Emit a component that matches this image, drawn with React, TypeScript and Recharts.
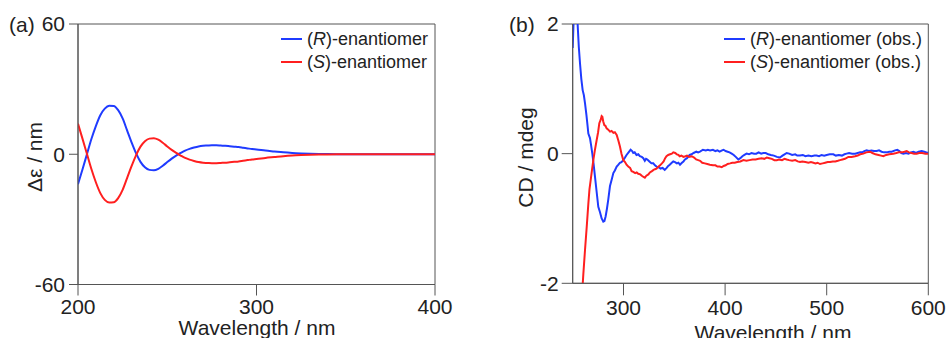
import { LineChart, Line, XAxis, YAxis, ReferenceArea, Label } from "recharts";

const FONT = "'Liberation Sans', Arial, sans-serif";
const BLUE = "#1f3bff";
const RED = "#ff1f1f";
const AXIS = "#555555";
const INK = "#222222";

// (a) calculated spectra
const calcWl = [
  200, 202.5, 205, 207.5, 210, 212.5, 215, 217.5, 220, 222.5, 225, 227.5, 230, 232.5, 235, 237.5,
  240, 242.5, 245, 247.5, 250, 252.5, 255, 257.5, 260, 262.5, 265, 267.5, 270, 272.5, 275, 277.5,
  280, 282.5, 285, 287.5, 290, 292.5, 295, 297.5, 300, 305, 310, 315, 320, 325, 330, 335, 340,
  345, 350, 360, 370, 380, 390, 400,
];
const calcR = [
  -13.8, -7, 0, 7, 13, 18, 21, 22.3, 22.2, 20.3, 16.5, 11, 5.5, 0.5, -3.5, -6,
  -7.2, -7.4, -6.7, -5.3, -3.6, -2, -0.6, 0.6, 1.7, 2.5, 3.1, 3.6, 3.9, 4.0, 4.1, 4.1,
  4.0, 3.9, 3.7, 3.5, 3.3, 3.0, 2.7, 2.4, 2.2, 1.7, 1.3, 0.9, 0.6, 0.4, 0.25, 0.15, 0.08,
  0.04, 0.02, 0, 0, 0, 0, 0,
];
const calcS = [
  14.1, 7.2, 0.2, -6.8, -12.9, -17.9, -21, -22.2, -22.1, -20.2, -16.4, -11, -5.5, -0.5, 3.5, 6,
  7.2, 7.4, 6.7, 5.3, 3.6, 2, 0.6, -0.6, -1.7, -2.5, -3.1, -3.6, -3.9, -4.0, -4.1, -4.1,
  -4.0, -3.9, -3.7, -3.5, -3.3, -3.0, -2.7, -2.4, -2.2, -1.7, -1.3, -0.9, -0.6, -0.4, -0.25, -0.15, -0.08,
  -0.04, -0.02, 0, 0, 0, 0, 0,
];

// (b) observed spectra, [wavelength, CD]
const obsR: [number, number][] = [
  [250, 1.63], [251, 2.1], [252, 2.6], [253, 2.6], [254, 2.3], [255, 1.95], [256, 1.65], [257.2, 1.39],
  [258.5, 1.15], [259.8, 0.98], [261, 0.9], [262.1, 0.78], [263.5, 0.6], [264.5, 0.45], [265.4, 0.31],
  [267, 0.24], [268.2, 0.12], [269.3, 0.0], [270.5, -0.15], [271.9, -0.35], [273.5, -0.58], [275.2, -0.82],
  [276.8, -0.9], [278.5, -1.0], [280.1, -1.05], [281.2, -1.04], [282.4, -0.97], [283.7, -0.85], [285, -0.71],
  [286.7, -0.5], [288.4, -0.4], [290, -0.3], [291.5, -0.26], [293.3, -0.2], [295, -0.17], [296.5, -0.14],
  [298, -0.13], [299.8, -0.1], [301.5, -0.06], [303, -0.02], [305, 0.02], [307, 0.06], [308.5, 0.04],
  [309.6, 0.01], [311, 0.02], [312.8, -0.02], [314.5, -0.01], [316.1, -0.04], [318, -0.05], [319.5, -0.07],
  [321, -0.11], [322.2, -0.08], [323.5, -0.09], [325.5, -0.12], [327.5, -0.15], [329.3, -0.15], [331, -0.18],
  [332.5, -0.2], [334.5, -0.21], [336.5, -0.23], [338.5, -0.22], [340.6, -0.25], [342.5, -0.22], [344, -0.19],
  [345.5, -0.17], [347.5, -0.14], [349, -0.12], [350.7, -0.13], [352.5, -0.15], [354, -0.14], [355.6, -0.17],
  [357.5, -0.14], [359, -0.12], [360.5, -0.09], [362.5, -0.07], [365.1, -0.02], [367, -0.01], [369, 0.01],
  [371.7, 0.03], [373.5, 0.02], [375.3, 0.03], [378.2, 0.06], [381, 0.05], [383, 0.06], [385.2, 0.05],
  [388, 0.06], [390.5, 0.04], [392.5, 0.05], [394.6, 0.03], [397, 0.05], [398.5, 0.06], [400.5, 0.04],
  [402.5, 0.03], [404.4, 0.02], [406.5, 0.0], [408.5, -0.02], [410.5, -0.05], [413, -0.09], [415, -0.07],
  [417, -0.04], [419, -0.02], [421.2, 0.0], [423.5, -0.01], [426, 0.01], [428.5, 0.0], [430.7, 0.0],
  [433, 0.02], [435.5, 0.0], [437.6, 0.01], [440, 0.01], [442.5, -0.01], [445, -0.02], [448, -0.03],
  [451, -0.05], [454, -0.06], [456.5, -0.03], [458.5, -0.01], [460.6, 0.01], [463, 0.0], [466, -0.02],
  [469, -0.01], [471, -0.03], [473.7, -0.03], [476.5, -0.02], [479, -0.04], [482, -0.03], [485, -0.04],
  [488, -0.03], [490, -0.03], [492.5, -0.04], [495, -0.02], [497.5, -0.03], [500, -0.02], [503, -0.01],
  [506.5, -0.01], [509, -0.03], [512, -0.02], [515, -0.03], [517.5, -0.01], [519.6, 0.0], [522, 0.01],
  [525, 0.0], [528, 0.0], [530.5, 0.01], [532.8, 0.02], [535, 0.02], [537, 0.04], [539.3, 0.05],
  [541.5, 0.04], [544, 0.05], [546.5, 0.04], [549.2, 0.04], [551.5, 0.05], [554, 0.03], [556.5, 0.02],
  [559, 0.02], [561.5, 0.03], [564, 0.03], [567.3, 0.05], [569.5, 0.06], [571.5, 0.04], [573.5, 0.01],
  [575.5, 0.0], [578, 0.01], [580.5, 0.0], [583, 0.02], [585.3, 0.03], [588, 0.01], [590.5, 0.03],
  [593.5, 0.04], [596, 0.03], [598, 0.02], [600, 0.01],
];
const obsS: [number, number][] = [
  [259.5, -2.1], [260.5, -1.85], [262.1, -1.49], [263.8, -1.13], [265.4, -0.77], [266.5, -0.55], [267.7, -0.41],
  [269, -0.25], [270.3, -0.1], [271.8, 0.05], [273.6, 0.21], [275, 0.33], [276.2, 0.47], [277.5, 0.52],
  [278.5, 0.58], [279.2, 0.57], [280, 0.5], [281.1, 0.44], [282.2, 0.43], [283.4, 0.39], [285, 0.37],
  [286.7, 0.34], [288.3, 0.35], [290, 0.32], [291.5, 0.33], [293.3, 0.29], [295, 0.2], [296.5, 0.11],
  [298, 0.0], [299.8, -0.1], [301.5, -0.13], [303, -0.17], [304.7, -0.2], [306.5, -0.22], [308, -0.27],
  [309.6, -0.28], [311.5, -0.3], [313, -0.29], [314.5, -0.31], [316.5, -0.32], [318, -0.34], [319.7, -0.36],
  [321, -0.37], [322.5, -0.34], [324.5, -0.32], [326, -0.29], [328, -0.27], [329.6, -0.25], [331, -0.24],
  [332.5, -0.23], [334.5, -0.2], [336, -0.18], [337.8, -0.15], [339.5, -0.12], [341, -0.07], [342.3, -0.04],
  [344, -0.02], [345.8, -0.01], [347.6, 0.0], [349, 0.02], [350.9, 0.01], [352.5, -0.01], [354, -0.02],
  [355.4, -0.04], [357, -0.03], [359, -0.05], [361, -0.04], [362.5, -0.03], [364.5, -0.05], [367.2, -0.04],
  [369.5, -0.06], [371.5, -0.09], [373.5, -0.1], [375.4, -0.11], [377.5, -0.14], [380, -0.15], [382.5, -0.16],
  [385, -0.17], [388, -0.18], [390.5, -0.18], [392.5, -0.2], [394.6, -0.2], [396.7, -0.21], [398.5, -0.19],
  [400.5, -0.18], [402.5, -0.16], [404.9, -0.15], [407, -0.14], [409.5, -0.14], [412, -0.13], [415, -0.12],
  [418, -0.1], [421, -0.11], [424, -0.1], [427, -0.09], [430, -0.09], [433, -0.08], [436, -0.07],
  [438.5, -0.08], [441, -0.06], [443.5, -0.07], [446, -0.08], [448.5, -0.1], [450.8, -0.1], [453, -0.09],
  [456, -0.1], [458.5, -0.08], [460.6, -0.09], [463, -0.1], [466, -0.11], [469, -0.1], [471.5, -0.12],
  [473.7, -0.13], [476, -0.12], [479, -0.13], [482, -0.14], [484.5, -0.13], [486.9, -0.14], [489, -0.15],
  [491, -0.14], [493.4, -0.16], [496, -0.15], [498.5, -0.14], [501, -0.13], [503.3, -0.13], [506, -0.12],
  [508.5, -0.12], [511, -0.11], [513.1, -0.1], [515.5, -0.09], [518, -0.08], [521.3, -0.05], [524.5, -0.05],
  [527.9, -0.04], [530.5, -0.03], [533, -0.01], [536, 0.0], [539, 0.02], [542.6, 0.03], [545, 0.01],
  [548, -0.01], [551, -0.02], [553.5, -0.03], [555.8, -0.04], [558.5, -0.02], [561.5, -0.01], [565.6, 0.0],
  [568.5, 0.01], [571, 0.02], [574, 0.02], [576.5, 0.03], [578.7, 0.04], [581, 0.02], [583.5, 0.01],
  [586, 0.0], [588.6, 0.0], [591, 0.01], [594, 0.01], [597, 0.0], [600, 0.0],
];

const ticksA_x = [200, 300, 400];
const ticksA_y = [-60, 0, 60];
const ticksB_x = [300, 400, 500, 600];
const ticksB_y = [-2, 0, 2];

const calcRows = calcWl.map((wl, i) => ({ wl, r: calcR[i], s: calcS[i] }));
const obsRRows = obsR.map(([wl, v]) => ({ wl, v }));
const obsSRows = obsS.map(([wl, v]) => ({ wl, v }));

const tickStyle = { fill: INK, fontSize: 21 };

function LegendBox({ left, suffix }: { left: number; suffix: string }) {
  const rows = [
    { color: BLUE, letter: "R" },
    { color: RED, letter: "S" },
  ];
  return (
    <div style={{ position: "absolute", left, top: 27.5, fontSize: 18, color: INK, lineHeight: "23px" }}>
      {rows.map((r) => (
        <div key={r.letter} style={{ display: "flex", alignItems: "center", height: 23, whiteSpace: "nowrap" }}>
          <span style={{ display: "inline-block", width: 21, height: 2, background: r.color, marginRight: 5 }} />
          <span>
            (<i>{r.letter}</i>)-enantiomer{suffix}
          </span>
        </div>
      ))}
    </div>
  );
}

export default function App() {
  return (
    <div style={{ position: "absolute", left: 0, top: 0, width: 951, height: 338, background: "#fff", fontFamily: FONT, overflow: "hidden" }}>
      <div style={{ position: "absolute", left: 0, top: 0 }}>
        <LineChart width={475} height={338} data={calcRows} margin={{ top: 24, right: 40, bottom: 23.5, left: 0 }}>
          <XAxis
            type="number"
            dataKey="wl"
            domain={[200, 400]}
            ticks={ticksA_x}
            interval={0}
            height={30}
            tickSize={11}
            tickMargin={4}
            stroke={AXIS}
            tick={tickStyle}
            allowDataOverflow
          >
            <Label
              content={() => (
                <text x={257} y={335} textAnchor="middle" fontSize={21} fill={INK}>
                  Wavelength / nm
                </text>
              )}
            />
          </XAxis>
          <YAxis
            type="number"
            domain={[-60, 60]}
            ticks={ticksA_y}
            interval={0}
            width={78}
            tickSize={9}
            tickMargin={4}
            stroke={AXIS}
            tick={tickStyle}
            allowDataOverflow
          >
            <Label
              content={() => (
                <g>
                  <text x={9} y={31.5} fontSize={21} fill={INK}>(a)</text>
                  <text x={41.5} y={157} textAnchor="middle" fontSize={21} fill={INK} transform="rotate(-90 41.5 157)">
                    Δε / nm
                  </text>
                </g>
              )}
            />
          </YAxis>
          <ReferenceArea x1={200} x2={400} y1={-60} y2={60} fill="none" stroke={AXIS} strokeWidth={1} />
          <Line type="monotone" dataKey="r" stroke={BLUE} strokeWidth={2} dot={false} isAnimationActive={false} />
          <Line type="monotone" dataKey="s" stroke={RED} strokeWidth={2} dot={false} isAnimationActive={false} />
        </LineChart>
      </div>
      <LegendBox left={281} suffix="" />

      <div style={{ position: "absolute", left: 490, top: 0 }}>
        <LineChart width={461} height={338} margin={{ top: 24, right: 22.7, bottom: 24.7, left: 0 }}>
          <XAxis
            type="number"
            dataKey="wl"
            domain={[250, 600]}
            ticks={ticksB_x}
            interval={0}
            height={30}
            tickSize={12}
            tickMargin={5}
            stroke={AXIS}
            tick={tickStyle}
            allowDataOverflow
          >
            <Label
              content={() => (
                <text x={283} y={340} textAnchor="middle" fontSize={21} fill={INK}>
                  Wavelength / nm
                </text>
              )}
            />
          </XAxis>
          <YAxis
            type="number"
            domain={[-2, 2]}
            ticks={ticksB_y}
            interval={0}
            width={82.7}
            tickSize={11}
            tickMargin={3}
            stroke={AXIS}
            tick={tickStyle}
            allowDataOverflow
          >
            <Label
              content={() => (
                <g>
                  <text x={19} y={31.5} fontSize={21} fill={INK}>(b)</text>
                  <text x={42.7} y={157.5} textAnchor="middle" fontSize={21} fill={INK} transform="rotate(-90 42.7 157.5)">
                    CD / mdeg
                  </text>
                </g>
              )}
            />
          </YAxis>
          <ReferenceArea x1={250} x2={600} y1={-2} y2={2} fill="none" stroke={AXIS} strokeWidth={1} />
          <Line data={obsRRows} type="linear" dataKey="v" stroke={BLUE} strokeWidth={2} dot={false} isAnimationActive={false} />
          <Line data={obsSRows} type="linear" dataKey="v" stroke={RED} strokeWidth={2} dot={false} isAnimationActive={false} />
        </LineChart>
      </div>
      <LegendBox left={724} suffix=" (obs.)" />
    </div>
  );
}
